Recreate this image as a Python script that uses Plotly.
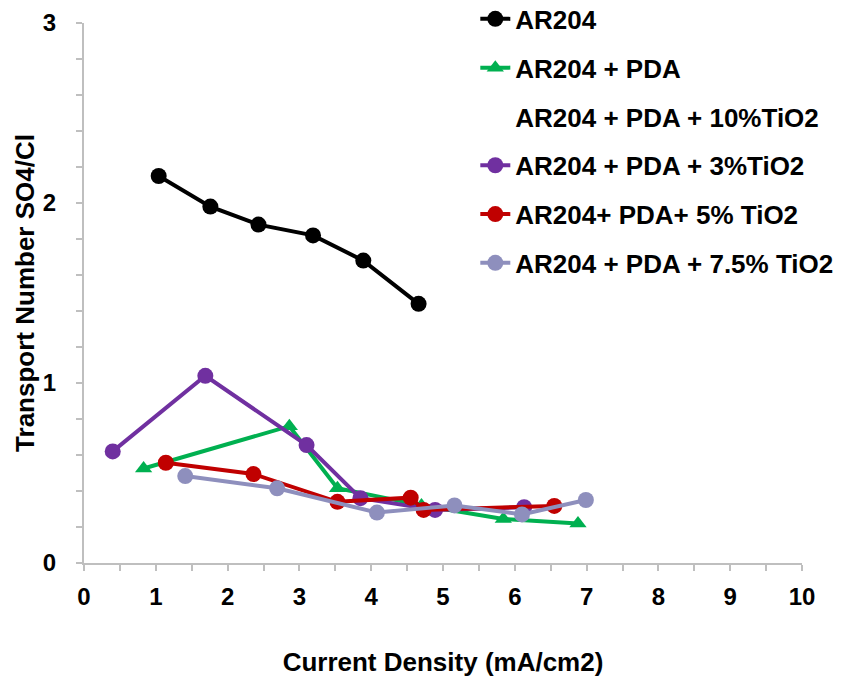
import plotly.graph_objects as go

# Data
ar204_x = [1.04, 1.76, 2.43, 3.19, 3.89, 4.66]
ar204_y = [2.15, 1.98, 1.88, 1.82, 1.68, 1.44]

pda_x = [0.83, 2.86, 3.53, 4.70, 5.84, 6.88]
pda_y = [0.525, 0.76, 0.415, 0.32, 0.245, 0.22]

tio2_10_x = [None]
tio2_10_y = [None]

tio2_3_x = [0.40, 1.69, 3.10, 3.85, 4.89, 6.13]
tio2_3_y = [0.62, 1.04, 0.655, 0.36, 0.295, 0.31]

tio2_5_x = [1.14, 2.36, 3.53, 4.55, 4.73, 6.55]
tio2_5_y = [0.557, 0.494, 0.34, 0.363, 0.295, 0.317]

tio2_75_x = [1.41, 2.69, 4.08, 5.16, 6.10, 6.99]
tio2_75_y = [0.483, 0.415, 0.28, 0.32, 0.27, 0.35]

names = ["AR204", "AR204 + PDA", "AR204 + PDA + 10%TiO2",
         "AR204 + PDA + 3%TiO2", "AR204+ PDA+ 5% TiO2", "AR204 + PDA + 7.5% TiO2"]
colors = ["#000000", "#00b050", "rgba(0,0,0,0)", "#7030a0", "#c00000", "#8e8fbd"]
symbols = ["circle", "triangle-up", "circle", "circle", "circle", "circle"]
xs = [ar204_x, pda_x, tio2_10_x, tio2_3_x, tio2_5_x, tio2_75_x]
ys = [ar204_y, pda_y, tio2_10_y, tio2_3_y, tio2_5_y, tio2_75_y]

fig = go.Figure()
for i, (n, c, s, x, y) in enumerate(zip(names, colors, symbols, xs, ys)):
    fig.add_trace(go.Scatter(
        x=x, y=y, name=n, mode="lines+markers",
        line=dict(color=c, width=4),
        marker=dict(color=c, symbol=s, size=16 if s == "circle" else 15),
        legendgroup=f"g{i}",
    ))

font_family = "Liberation Sans, Arial, sans-serif"
gray = "#bfbfbf"
fig.update_layout(
    width=848, height=677,
    margin=dict(l=84, r=46, t=23, b=114, autoexpand=False),
    plot_bgcolor="white", paper_bgcolor="white",
    font=dict(family=font_family, size=24, color="black"),
    showlegend=True,
    legend=dict(
        x=0.545, y=1.051, xanchor="left", yanchor="top",
        font=dict(family=font_family, size=26, color="black", weight="bold"),
        traceorder="grouped", tracegroupgap=12,
        bgcolor="rgba(0,0,0,0)",
    ),
    xaxis=dict(
        range=[0, 10], dtick=1, showgrid=False, zeroline=False,
        showline=True, linecolor=gray, linewidth=2,
        ticks="outside", tickcolor=gray, ticklen=6, tickwidth=2,
        minor=dict(dtick=0.5, ticks="outside", ticklen=6, tickwidth=2, tickcolor=gray),
        ticklabelstandoff=5,
        tickfont=dict(family=font_family, size=24, weight="bold"),
        title=dict(text="<b>Current Density (mA/cm2)</b>", standoff=45,
                   font=dict(family=font_family, size=26)),
    ),
    yaxis=dict(
        range=[0, 3], dtick=1, showgrid=False, zeroline=False,
        showline=True, linecolor=gray, linewidth=2,
        ticks="outside", tickcolor=gray, ticklen=6, tickwidth=2,
        minor=dict(dtick=0.2, ticks="outside", ticklen=6, tickwidth=2, tickcolor=gray),
        ticklabelstandoff=15,
        tickfont=dict(family=font_family, size=24, weight="bold"),
        title=dict(text="<b>Transport Number SO4/Cl</b>", standoff=1,
                   font=dict(family=font_family, size=26)),
    ),
)

fig.write_html("out.html")
